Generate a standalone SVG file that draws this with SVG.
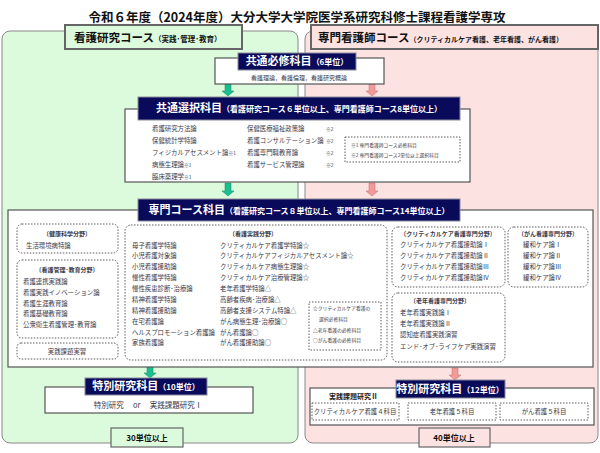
<svg xmlns="http://www.w3.org/2000/svg" width="600" height="453" viewBox="0 0 600 453">
<defs>
<style>
text{font-family:"Noto Sans CJK JP","Noto Sans",sans-serif;fill:#3a3a4a}
.t{font-size:6.4px}
.s{font-size:6px}
.xs{font-size:4.8px}
.h{font-size:11px;font-weight:bold;fill:#fff}
.hs{font-size:8px;font-weight:bold;fill:#fff}
.navy{fill:#0a0a5a;stroke:#8a8a9a;stroke-width:1}
.wb{fill:#fff;stroke:#555;stroke-width:1.2}
.dash{fill:#fff;stroke:#333;stroke-width:0.8;stroke-dasharray:1.5,1.5}
.ga{fill:#1bbf8f;stroke:#0f8a66;stroke-width:0.5}
.pa{fill:#f29a9a;stroke:#c06a6a;stroke-width:0.5}
</style>
</defs>
<rect width="600" height="453" fill="#fff"/>
<text x="297" y="22" text-anchor="middle" style="font-size:12.5px;font-weight:bold;fill:#111">令和６年度（2024年度）大分大学大学院医学系研究科修士課程看護学専攻</text>
<g id="panel-left"><rect x="2" y="31" width="296" height="412" rx="8" fill="#dcfadc" stroke="#888" stroke-width="1"/>
<rect x="65" y="25" width="177" height="24" fill="#dcfadc" stroke="#666" stroke-width="2"/>
<text x="74" y="42" style="font-size:11.5px;font-weight:bold;fill:#111">看護研究コース<tspan style="font-size:7.5px">（実践･管理･教育）</tspan></text></g>
<g id="panel-right"><rect x="305" y="31" width="293" height="412" rx="8" fill="#fde2e2" stroke="#888" stroke-width="1"/>
<rect x="311" y="25" width="287" height="24" fill="#fde2e2" stroke="#666" stroke-width="2"/>
<text x="318" y="42" style="font-size:11.5px;font-weight:bold;fill:#111">専門看護師コース<tspan style="font-size:7px">（クリティカルケア看護、老年看護、がん看護）</tspan></text></g>
<g id="connectors">
<path class="ga" d="M225 84h6v7h3l-6 5l-6-5h3z"/>
<path class="pa" d="M369 84h6v7h3l-6 5l-6-5h3z"/>
<path class="ga" d="M225 183h6v8h3l-6 5l-6-5h3z"/>
<path class="pa" d="M369 183h6v8h3l-6 5l-6-5h3z"/>
<path class="ga" d="M147 366h6v7h3l-6 5l-6-5h3z"/>
<path class="pa" d="M452 368h6v7h3l-6 5l-6-5h3z"/>
</g>
<g id="common-required"><rect class="wb" x="215" y="58" width="169" height="26"/>
<rect class="navy" x="238" y="53" width="118" height="17"/>
<text x="297" y="65" text-anchor="middle" class="h">共通必修科目<tspan class="hs">（6単位）</tspan></text>
<text x="299" y="80" text-anchor="middle" class="s">看護理論，看護倫理，看護研究概論</text></g>
<g id="common-elective"><rect class="wb" x="125" y="109" width="345" height="73"/>
<rect class="navy" x="138" y="97" width="322" height="23"/>
<text x="299" y="112" text-anchor="middle" class="h">共通選択科目<tspan class="hs">（看護研究コース６単位以上、専門看護師コース8単位以上）</tspan></text>
<text class="t" x="152" y="131">看護研究方法論</text>
<text class="t" x="152" y="143">保健統計学特論</text>
<text class="t" x="152" y="155">フィジカルアセスメント論<tspan class="xs">※1</tspan></text>
<text class="t" x="152" y="167">病態生理論<tspan class="xs">※1</tspan></text>
<text class="t" x="152" y="179">臨床薬理学<tspan class="xs">※1</tspan></text>
<text class="t" x="247" y="131">保健医療福祉政策論</text><text class="xs" x="326" y="131">※2</text>
<text class="t" x="247" y="143">看護コンサルテーション論</text><text class="xs" x="326" y="143">※2</text>
<text class="t" x="247" y="155">看護専門職教育論</text><text class="xs" x="326" y="155">※2</text>
<text class="t" x="247" y="167">看護サービス管理論</text><text class="xs" x="326" y="167">※2</text>
<rect class="dash" x="345" y="137" width="115" height="25"/>
<text class="xs" x="351" y="147">※1 専門看護師コース必修科目</text>
<text class="xs" x="351" y="157">※2 専門看護師コース2単位以上選択科目</text></g>
<g id="specialty"><rect class="wb" x="8" y="210" width="585" height="157"/>
<rect class="navy" x="138" y="199" width="322" height="22"/>
<text x="299" y="214" text-anchor="middle" class="h">専門コース科目<tspan class="hs">（看護研究コース８単位以上、専門看護師コース14単位以上）</tspan></text>
<rect class="dash" x="17" y="224" width="101" height="29" rx="5"/>
<text class="s" x="67" y="236" text-anchor="middle" font-weight="bold">〔健康科学分野〕</text>
<text class="t" x="26" y="248">生活環境病特論</text>
<rect class="dash" x="17" y="260" width="101" height="78" rx="5"/>
<text class="s" x="67" y="272" text-anchor="middle" font-weight="bold">〔看護管理･教育分野〕</text>
<text class="t" x="23" y="284">看護連携実践論</text>
<text class="t" x="23" y="295">看護実践イノベーション論</text>
<text class="t" x="23" y="306">看護生涯教育論</text>
<text class="t" x="23" y="316">看護基礎教育論</text>
<text class="t" x="23" y="327">公衆衛生看護管理･教育論</text>
<rect class="dash" x="17" y="343" width="101" height="16" rx="4"/>
<text class="t" x="67" y="354" text-anchor="middle">実践課題実習</text>
<rect class="dash" x="125" y="225" width="262" height="135" rx="6"/>
<text class="s" x="253" y="236" text-anchor="middle" font-weight="bold">〔看護実践分野〕</text>
<text class="t" x="132" y="248">母子看護学特論</text>
<text class="t" x="132" y="258">小児看護対象論</text>
<text class="t" x="132" y="269">小児看護援助論</text>
<text class="t" x="132" y="280">慢性看護学特論</text>
<text class="t" x="132" y="291">慢性疾患診断･治療論</text>
<text class="t" x="132" y="302">精神看護学特論</text>
<text class="t" x="132" y="313">精神看護援助論</text>
<text class="t" x="132" y="324">在宅看護論</text>
<text class="t" x="132" y="335">ヘルスプロモーション看護論</text>
<text class="t" x="132" y="345">家族看護論</text>
<text class="t" x="220" y="248">クリティカルケア看護学特論☆</text>
<text class="t" x="220" y="258">クリティカルケアフィジカルアセスメント論☆</text>
<text class="t" x="220" y="269">クリティカルケア病態生理論☆</text>
<text class="t" x="220" y="280">クリティカルケア治療管理論☆</text>
<text class="t" x="220" y="291">老年看護学特論△</text>
<text class="t" x="220" y="302">高齢者疾病･治療論△</text>
<text class="t" x="220" y="313">高齢者支援システム特論△</text>
<text class="t" x="220" y="324">がん病態生理･治療論○</text>
<text class="t" x="220" y="335">がん看護論○</text>
<text class="t" x="220" y="345">がん看護援助論○</text>
<rect class="dash" x="309" y="302" width="72" height="48"/>
<text class="xs" x="313" y="310">☆クリティカルケア看護の</text>
<text class="xs" x="319" y="321">選択必修科目</text>
<text class="xs" x="313" y="332">△老年看護の必修科目</text>
<text class="xs" x="313" y="342">○がん看護の必修科目</text>
<rect class="dash" x="392" y="227" width="113" height="60" rx="6"/>
<text class="s" x="448" y="236" text-anchor="middle" font-weight="bold">〔クリティカルケア看護専門分野〕</text>
<text class="t" x="400" y="247">クリティカルケア看護援助論Ⅰ</text>
<text class="t" x="400" y="258">クリティカルケア看護援助論Ⅱ</text>
<text class="t" x="400" y="269">クリティカルケア看護援助論Ⅲ</text>
<text class="t" x="400" y="280">クリティカルケア看護援助論Ⅳ</text>
<rect class="dash" x="508" y="227" width="80" height="60" rx="6"/>
<text class="s" x="548" y="236" text-anchor="middle" font-weight="bold">〔がん看護専門分野〕</text>
<text class="t" x="523" y="247">緩和ケア論Ⅰ</text>
<text class="t" x="523" y="258">緩和ケア論Ⅱ</text>
<text class="t" x="523" y="269">緩和ケア論Ⅲ</text>
<text class="t" x="523" y="280">緩和ケア論Ⅳ</text>
<rect class="dash" x="392" y="293" width="113" height="69" rx="6"/>
<text class="s" x="440" y="303" text-anchor="middle" font-weight="bold">〔老年看護専門分野〕</text>
<text class="t" x="400" y="315">老年看護実践論Ⅰ</text>
<text class="t" x="400" y="326">老年看護実践論Ⅱ</text>
<text class="t" x="400" y="337">認知症看護実践演習</text>
<text class="t" x="400" y="349">エンド･オブ･ライフケア実践演習</text></g>
<g id="special-left"><rect class="wb" x="45" y="387" width="208" height="26"/>
<rect class="navy" x="85" y="378" width="122" height="17"/>
<text x="146" y="390" text-anchor="middle" class="h">特別研究科目<tspan class="hs">（10単位）</tspan></text>
<text class="t" x="148" y="408" text-anchor="middle" style="font-size:7.5px">特別研究　 or　 実践課題研究Ⅰ</text></g>
<g id="special-right"><rect class="wb" x="310" y="388" width="284" height="37"/>
<rect class="navy" x="396" y="380" width="109" height="18"/>
<text x="450" y="393" text-anchor="middle" class="h">特別研究科目<tspan class="hs">（12単位）</tspan></text>
<text x="329" y="399" style="font-size:7px;font-weight:bold;fill:#222">実践課題研究Ⅱ</text>
<rect class="dash" x="312" y="403" width="87" height="17"/><text class="t" x="355" y="414" text-anchor="middle">クリティカルケア看護４科目</text>
<rect class="dash" x="408" y="403" width="88" height="17"/><text class="t" x="452" y="414" text-anchor="middle">老年看護５科目</text>
<rect class="dash" x="500" y="403" width="88" height="17"/><text class="t" x="544" y="414" text-anchor="middle">がん看護５科目</text></g>
<g id="total-left"><rect x="111" y="428" width="72" height="19" fill="#dcfadc" stroke="#666" stroke-width="1.2"/>
<text x="147" y="441" text-anchor="middle" style="font-size:8px;font-weight:bold;fill:#111">30単位以上</text></g>
<g id="total-right"><rect x="419" y="428" width="71" height="19" fill="#fde2e2" stroke="#666" stroke-width="1.2"/>
<text x="454" y="441" text-anchor="middle" style="font-size:8px;font-weight:bold;fill:#111">40単位以上</text></g>
</svg>
